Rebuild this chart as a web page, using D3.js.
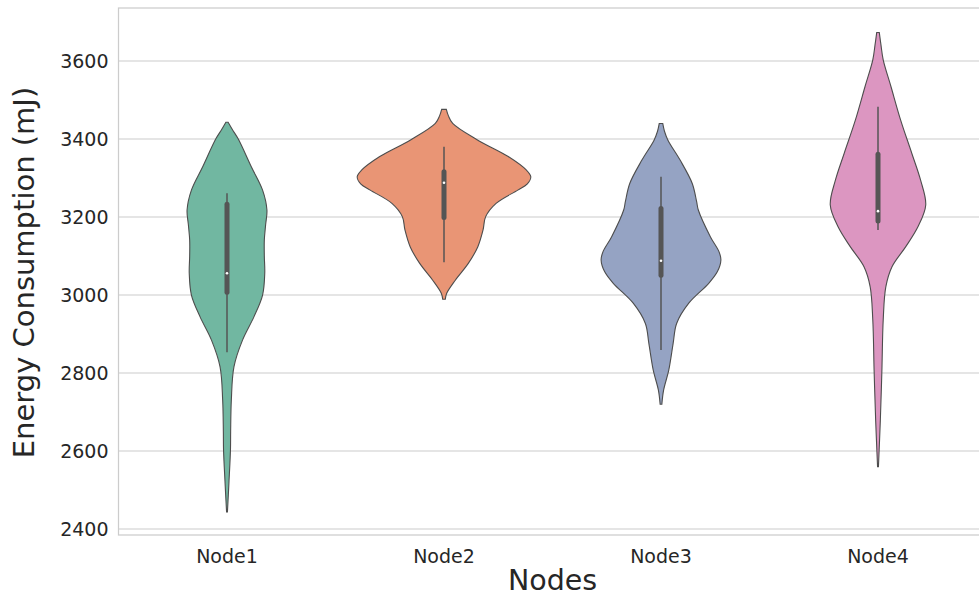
<!DOCTYPE html>
<html><head><meta charset="utf-8">
<script src="https://cdn.jsdelivr.net/npm/d3@7"></script>
<style>body{margin:0;background:#fff}svg{display:block;font-family:"DejaVu Sans",sans-serif}</style>
</head><body><svg id="c" width="979" height="597"></svg>
<script>
const categories = ["Node1","Node2","Node3","Node4"];
const colors = ["#71b7a1","#e99575","#95a3c3","#dc96c1"];
const yTicks = [2400,2600,2800,3000,3200,3400,3600];
// density profiles: [value, relative density]
const node1Density = [[3443,0.013],[3425,0.06],[3400,0.13],[3329,0.28],[3269,0.41],[3218,0.46],[3180,0.445],[3141,0.43],[3100,0.43],[3056,0.435],[3000,0.41],[2944,0.31],[2885,0.18],[2816,0.08],[2731,0.05],[2650,0.042],[2603,0.04],[2517,0.022],[2444,0.005]];
const node2Density = [[3476,0.027],[3460,0.05],[3440,0.1],[3397,0.39],[3355,0.74],[3320,0.95],[3303,1.0],[3285,0.96],[3269,0.85],[3235,0.6],[3201,0.48],[3167,0.45],[3124,0.39],[3081,0.28],[3038,0.13],[3004,0.03],[2989,0.015]];
const node3Density = [[3440,0.02],[3420,0.04],[3397,0.08],[3346,0.22],[3286,0.36],[3240,0.41],[3218,0.43],[3149,0.57],[3110,0.67],[3090,0.69],[3060,0.65],[3030,0.55],[2979,0.32],[2927,0.18],[2876,0.14],[2808,0.09],[2756,0.03],[2720,0.01]];
const node4Density = [[3673,0.015],[3640,0.035],[3603,0.06],[3534,0.15],[3449,0.26],[3363,0.39],[3295,0.49],[3231,0.55],[3175,0.46],[3124,0.32],[3072,0.16],[3021,0.09],[2936,0.06],[2808,0.045],[2679,0.027],[2560,0.005]];
const densities = [node1Density,node2Density,node3Density,node4Density];
// box stats: [whiskerLow, q1, median, q3, whiskerHigh]
const boxStats = [[2853,3007,3056,3233,3261],[3084,3199,3288,3316,3380],[2859,3051,3088,3222,3303],[3167,3190,3215,3361,3483]];

const svg = d3.select("#c");
const L=118.5, R=986.5, T=8, B=535;
const x = d3.scaleBand().domain(categories).range([L,R]).paddingInner(0).paddingOuter(0);
const y = d3.scaleLinear().domain([2384.6,3736]).range([B,T]);
const w = d3.scaleLinear().domain([0,1]).range([0,x.bandwidth()*0.4]);
const txt="#262626", grid="#cccccc";

// grid
svg.append("g").selectAll("line").data(yTicks).join("line")
  .attr("x1",L).attr("x2",R).attr("y1",d=>y(d)).attr("y2",d=>y(d))
  .attr("stroke",grid).attr("stroke-width",1.1);
// spines
svg.append("rect").attr("x",L).attr("y",T).attr("width",R-L).attr("height",B-T)
  .attr("fill","none").attr("stroke",grid).attr("stroke-width",1.25);

// y tick labels
svg.append("g").selectAll("text").data(yTicks).join("text")
  .attr("x",L-10).attr("y",d=>y(d)).attr("dy","0.35em").attr("text-anchor","end")
  .attr("font-size",19).attr("fill",txt).text(d=>d);
// x tick labels
svg.append("g").selectAll("text").data(categories).join("text")
  .attr("x",d=>x(d)+x.bandwidth()/2).attr("y",B+21).attr("dy","0.35em").attr("text-anchor","middle")
  .attr("font-size",19).attr("fill",txt).text(d=>d);
// axis labels
svg.append("text").attr("x",(L+R)/2).attr("y",590).attr("text-anchor","middle")
  .attr("font-size",28.5).attr("fill",txt).text("Nodes");
svg.append("text").attr("transform",`translate(34,${(T+B)/2+1}) rotate(-90)`).attr("text-anchor","middle")
  .attr("font-size",29).attr("fill",txt).text("Energy Consumption (mJ)");

// violins
categories.forEach((c,i)=>{
  const cx = x(c)+x.bandwidth()/2;
  const area = d3.area().curve(d3.curveCatmullRom.alpha(0.5))
    .y(d=>y(d[0])).x0(d=>cx-w(d[1])).x1(d=>cx+w(d[1]));
  svg.append("path").datum(densities[i]).attr("d",area)
    .attr("fill",colors[i]).attr("stroke","#4d4d4d").attr("stroke-width",1.1);
  const [wl,q1,med,q3,wh] = boxStats[i];
  svg.append("line").attr("x1",cx).attr("x2",cx).attr("y1",y(wl)).attr("y2",y(wh))
    .attr("stroke","#555555").attr("stroke-width",1.5);
  svg.append("line").attr("x1",cx).attr("x2",cx).attr("y1",y(q1)).attr("y2",y(q3))
    .attr("stroke","#555555").attr("stroke-width",5).attr("stroke-linecap","round");
  svg.append("circle").attr("cx",cx).attr("cy",y(med)).attr("r",1.3).attr("fill","#ffffff");
});
</script></body></html>
